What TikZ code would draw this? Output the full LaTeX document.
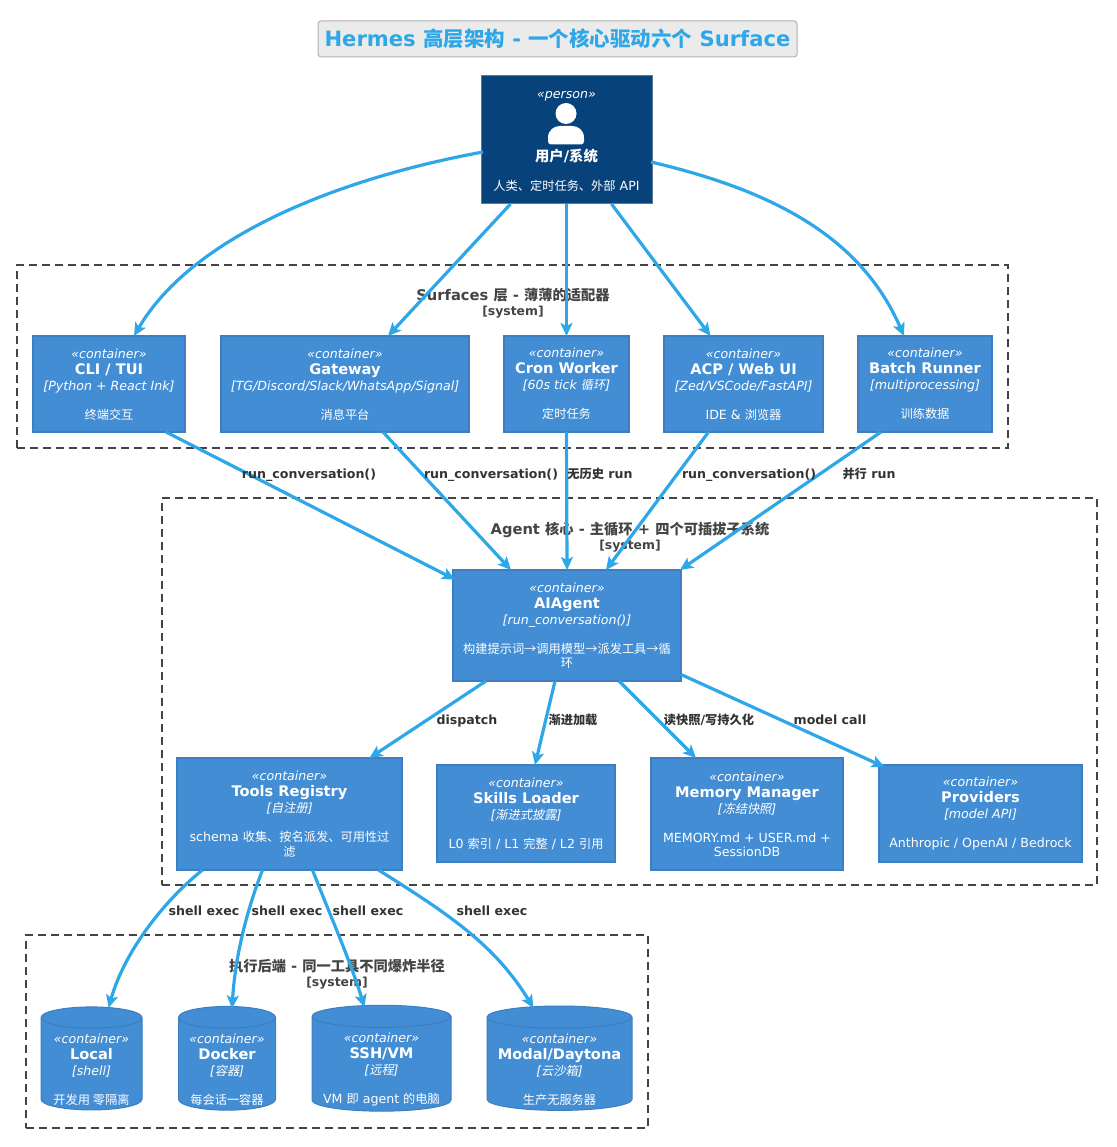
\documentclass[tikz,border=0pt]{standalone}
\usepackage{fontspec}
\setmainfont{DejaVu Sans}
\newfontfamily\cjk{Noto Sans CJK SC}[Scale=0.97,ItalicFont={Noto Sans CJK SC},ItalicFeatures={FakeSlant=0.2}]
\usepackage{xcolor}
\usepackage{tikz}
\usetikzlibrary{arrows.meta,calc,shapes.geometric}
\definecolor{contfill}{HTML}{438DD5}
\definecolor{contline}{HTML}{3C7FC0}
\definecolor{personfill}{HTML}{08427B}
\definecolor{personline}{HTML}{5C7A99}
\definecolor{relblue}{HTML}{2EA7E8}
\definecolor{boundgray}{HTML}{444444}
\definecolor{reltext}{HTML}{333333}
\newcommand{\zh}[1]{{\cjk #1}}
\newcommand{\contlabel}[4][10pt]{{\rule{0pt}{#1}\itshape «container»}\\{\fontsize{14.6}{16}\selectfont\bfseries #2}\\{\itshape [#3]}\\[13pt]#4}

\begin{document}
\begin{tikzpicture}[
  x=1pt, y=-1pt,
  contbox/.style={draw=contline, fill=contfill, line width=1.2pt, outer sep=0pt, text=white, align=center, font=\fontsize{12.6}{16}\selectfont},
  contdb/.style={contbox, cylinder, shape border rotate=90, inner xsep=0pt, inner ysep=-6pt, draw=contline, line width=1pt},
  boundary/.style={draw=boundgray, line width=2pt, dash pattern=on 8pt off 5pt},
  boundtext/.style={align=center, text=boundgray, font=\fontsize{14.7}{15}\selectfont\bfseries},
  arrow/.style={-{Stealth[length=13pt, width=12pt, inset=3pt]}, line width=3.2pt, draw=relblue},
  rel/.style={text=reltext, text height=10pt, text depth=2pt, font=\fontsize{12.6}{14}\selectfont\bfseries}
]
\useasboundingbox (0,0) rectangle (1116,1147);

% title
\node[draw=black!30, fill=black!8, line width=1pt, rounded corners=3pt, minimum width=479pt, minimum height=36pt, text=relblue, font=\fontsize{21.1}{24}\selectfont\bfseries] (title) at (557.5,39) {Hermes \zh{高层架构} - \zh{一个核心驱动六个} Surface};

% boundaries
\node[boundary, minimum width=991pt, minimum height=183pt] (surfaces) at (512.5,356.5) {};
\node[boundary, minimum width=935pt, minimum height=387pt] (core) at (629.5,691.5) {};
\node[boundary, minimum width=622pt, minimum height=193pt] (backends) at (337,1031.5) {};
\node[boundtext] (surfacestitle) at (513,303.5) {Surfaces \zh{层} - \zh{薄薄的适配器}\\{\fontsize{12.4}{15}\selectfont [system]}};
\node[boundtext] (coretitle) at (630,537.5) {Agent \zh{核心} - \zh{主循环} + \zh{四个可插拔子系统}\\{\fontsize{12.4}{15}\selectfont [system]}};
\node[boundtext] (backendstitle) at (337,974.5) {\zh{执行后端} - \zh{同一工具不同爆炸半径}\\{\fontsize{12.4}{15}\selectfont [system]}};

% user
\node[contbox, draw=personline, fill=personfill, line width=1pt, minimum width=171pt, minimum height=128pt] (user) at (566.5,140) {{\rule{0pt}{11pt}\itshape «person»}\\[47pt]{\fontsize{14.8}{16}\selectfont\bfseries\zh{用户}/\zh{系统}}\\[13pt]\zh{人类、定时任务、外部} API};
\fill[white] (566,113.5) circle (10.5);
\fill[white] (548,141) -- (548,138) .. controls (548,130) and (554,126) .. (560,126) -- (572,126) .. controls (578,126) and (584,130) .. (584,138) -- (584,141) .. controls (584,143) and (583,144.5) .. (581,144.5) -- (551,144.5) .. controls (549,144.5) and (548,143) .. (548,141) -- cycle;

% surfaces
\node[contbox, minimum width=152pt, minimum height=96pt] (cli) at (109,384) {\contlabel{CLI / TUI}{Python + React Ink}{\zh{终端交互}}};
\node[contbox, minimum width=248pt, minimum height=96pt] (gateway) at (345,384) {\contlabel{Gateway}{TG/Discord/Slack/WhatsApp/Signal}{\zh{消息平台}}};
\node[contbox, minimum width=125pt, minimum height=96pt] (cron) at (566.5,384) {\contlabel{Cron Worker}{60s tick \zh{循环}}{\zh{定时任务}}};
\node[contbox, minimum width=159pt, minimum height=96pt] (acp) at (743.5,384) {\contlabel{ACP / Web UI}{Zed/VSCode/FastAPI}{IDE \& \zh{浏览器}}};
\node[contbox, minimum width=134pt, minimum height=96pt] (batch) at (925,384) {\contlabel{Batch Runner}{multiprocessing}{\zh{训练数据}}};

% core
\node[contbox, minimum width=228pt, minimum height=111pt] (agent) at (567,625.5) {\contlabel{AIAgent}{run\_conversation()}{\zh{构建提示词→调用模型→派发工具→循}\\[-1.5pt]\zh{环}}};
\node[contbox, minimum width=225pt, minimum height=112pt] (tools) at (289.5,814) {\contlabel{Tools Registry}{\zh{自注册}}{schema \zh{收集、按名派发、可用性过}\\[-1.5pt]\zh{滤}}};
\node[contbox, minimum width=178pt, minimum height=97pt] (skills) at (526,813.5) {\contlabel{Skills Loader}{\zh{渐进式披露}}{L0 \zh{索引} / L1 \zh{完整} / L2 \zh{引用}}};
\node[contbox, minimum width=192pt, minimum height=112pt] (memory) at (747,814) {\contlabel{Memory Manager}{\zh{冻结快照}}{MEMORY.md + USER.md +\\[-1.5pt]SessionDB}};
\node[contbox, minimum width=203pt, minimum height=97pt] (providers) at (980.5,813.5) {\contlabel{Providers}{model API}{Anthropic / OpenAI / Bedrock}};

% backends
\node[contdb, aspect=0.28, minimum width=101pt] (local) at (91.5,1064) {\contlabel[20.5pt]{Local}{shell}{\zh{开发用 零隔离}}};
\node[contdb, aspect=0.29, minimum width=97pt] (docker) at (227,1064) {\contlabel[20.5pt]{Docker}{\zh{容器}}{\zh{每会话一容器}}};
\node[contdb, aspect=0.19, minimum width=139pt] (sshvm) at (381.5,1064) {\contlabel[20.5pt]{SSH/VM}{\zh{远程}}{VM \zh{即} agent \zh{的电脑}}};
\node[contdb, aspect=0.18, minimum width=145pt] (modal) at (559.5,1064) {\contlabel[20.5pt]{Modal/Daytona}{\zh{云沙箱}}{\zh{生产无服务器}}};

% connectors
\draw[arrow] ($(user.west)+(2,12)$) .. controls (330,180) and (190,240) .. ($(cli.north)+(25,0)$);
\draw[arrow] ($(user.south)+(-56,0)$) -- ($(gateway.north)+(43,0)$);
\draw[arrow] (user.south) -- (cron.north);
\draw[arrow] ($(user.south)+(45,0)$) -- ($(acp.north)+(-33,0)$);
\draw[arrow] ($(user.east)+(-1,22)$) .. controls (770,190) and (860,235) .. ($(batch.north)+(-21,0)$);

\draw[arrow] ($(cli.south)+(57,0)$) -- ($(agent.west)+(2,-46)$);
\draw[arrow] ($(gateway.south)+(38,0)$) -- ($(agent.north)+(-56,0)$);
\draw[arrow] (cron.south) -- (agent.north);
\draw[arrow] ($(acp.south)+(-35,0)$) -- ($(agent.north)+(39,0)$);
\draw[arrow] ($(batch.south)+(-44,0)$) -- ($(agent.north)+(113,0)$);

\draw[arrow] ($(agent.south)+(-81,0)$) -- ($(tools.north)+(80,0)$);
\draw[arrow] ($(agent.south)+(-12,0)$) -- ($(skills.north)+(9,0)$);
\draw[arrow] ($(agent.south)+(52,0)$) -- ($(memory.north)+(-51,0)$);
\draw[arrow] ($(agent.east)+(0,49)$) -- ($(providers.north)+(-96,2)$);

\draw[arrow] ($(tools.south)+(-87,0)$) .. controls (165,900) and (125,950) .. ($(local.north)+(17,1)$);
\draw[arrow] ($(tools.south)+(-27,0)$) .. controls (245,915) and (235,960) .. ($(docker.north)+(5,2)$);
\draw[arrow] ($(tools.south)+(23,0)$) .. controls (330,915) and (350,960) .. ($(sshvm.north)+(-17,2)$);
\draw[arrow] ($(tools.south)+(89,0)$) .. controls (450,915) and (495,945) .. ($(modal.north)+(-26,2)$);

% connector labels
\node[rel] (relcli) at (309,474) {run\_conversation()};
\node[rel] (relgateway) at (491,474) {run\_conversation()};
\node[rel] (relcron) at (600,474) {\zh{无历史} run};
\node[rel] (relacp) at (749,474) {run\_conversation()};
\node[rel] (relbatch) at (869,474) {\zh{并行} run};
\node[rel] (reltools) at (467,720) {dispatch};
\node[rel] (relskills) at (573,720) {\zh{渐进加载}};
\node[rel] (relmemory) at (709,720) {\zh{读快照}/\zh{写持久化}};
\node[rel] (relproviders) at (830,720) {model call};
\node[rel] (rellocal) at (204,911) {shell exec};
\node[rel] (reldocker) at (287,911) {shell exec};
\node[rel] (relssh) at (368,911) {shell exec};
\node[rel] (relmodal) at (492,911) {shell exec};

\end{tikzpicture}
\end{document}
